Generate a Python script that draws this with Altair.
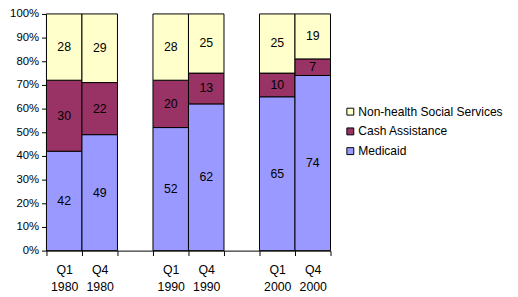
import altair as alt
import pandas as pd

periods = ["Q1 1980", "Q4 1980", "Q1 1990", "Q4 1990", "Q1 2000", "Q4 2000"]
x_domain = ["Q1 1980", "Q4 1980", "gap1", "Q1 1990", "Q4 1990", "gap2", "Q1 2000", "Q4 2000"]
series = ["Medicaid", "Cash Assistance", "Non-health Social Services"]
medicaid = [42, 49, 52, 62, 65, 74]
cash = [30, 22, 20, 13, 10, 7]
nonhealth = [28, 29, 28, 25, 25, 19]
legend_order = ["Non-health Social Services", "Cash Assistance", "Medicaid"]
colors = ["#FFFFCC", "#993366", "#9999FF"]
y_ticks = [0, 10, 20, 30, 40, 50, 60, 70, 80, 90, 100]

rows = []
for i, p in enumerate(periods):
    for k, (s, vals) in enumerate(zip(series, [medicaid, cash, nonhealth])):
        rows.append({"period": p, "series": s, "value": vals[i], "ord": k})
df = pd.DataFrame(rows)

FONT = "Liberation Sans"

xscale = alt.Scale(domain=x_domain, paddingInner=0, paddingOuter=0)
yscale = alt.Scale(domain=[0, 100])

xaxis = alt.Axis(tickBand="extent", labelAngle=0, tickSize=5,
                 labelPadding=8, labelLineHeight=17, labelOverlap=False,
                 labelExpr="indexof(datum.label,'gap')>=0 ? '' : split(datum.label,' ')",
                 labelFont=FONT, labelFontSize=12.5, labelColor="black",
                 domainColor="black", tickColor="black", grid=False)
yaxis = alt.Axis(values=y_ticks, tickCount=11, labelExpr="datum.value + '%'",
                 labelOverlap=False, tickSize=5, labelPadding=3, labelFont=FONT,
                 labelFontSize=11.5, labelColor="black", domainColor="black",
                 tickColor="black", grid=False, labelFlush=False)

base = alt.Chart(df)

bars = base.mark_bar(stroke="black", strokeWidth=1).encode(
    x=alt.X("period:N", scale=xscale, sort=x_domain, title=None, axis=xaxis),
    y=alt.Y("value:Q", stack="zero", scale=yscale, title=None, axis=yaxis),
    color=alt.Color("series:N", scale=alt.Scale(domain=legend_order, range=colors),
                    legend=alt.Legend(title=None, orient="none", legendX=302, legendY=93,
                                      symbolType="square", symbolSize=49,
                                      symbolStrokeColor="black", symbolStrokeWidth=1,
                                      labelFont=FONT, labelFontSize=12.2, labelColor="black",
                                      labelOffset=2, rowPadding=7, padding=0,
                                      labelLimit=300)),
    order=alt.Order("ord:Q"),
)

text = base.transform_stack(
    stack="value", groupby=["period"], as_=["y0", "y1"], sort=[alt.SortField("ord")]
).transform_calculate(mid="(datum.y0 + datum.y1) / 2").mark_text(
    font=FONT, fontSize=12.5, color="black"
).encode(
    x=alt.X("period:N", scale=xscale, sort=x_domain, title=None, axis=xaxis),
    y=alt.Y("mid:Q", scale=yscale, title=None, axis=yaxis),
    text="value:Q",
)

chart = alt.layer(bars, text).properties(
    width=288, height=240,
    autosize=alt.AutoSizeParams(type="none"),
    padding={"left": 39, "top": 4, "right": 182, "bottom": 45},
).configure_view(strokeWidth=0)

chart.save("out.html", embed_options={"renderer": "svg", "actions": False})
